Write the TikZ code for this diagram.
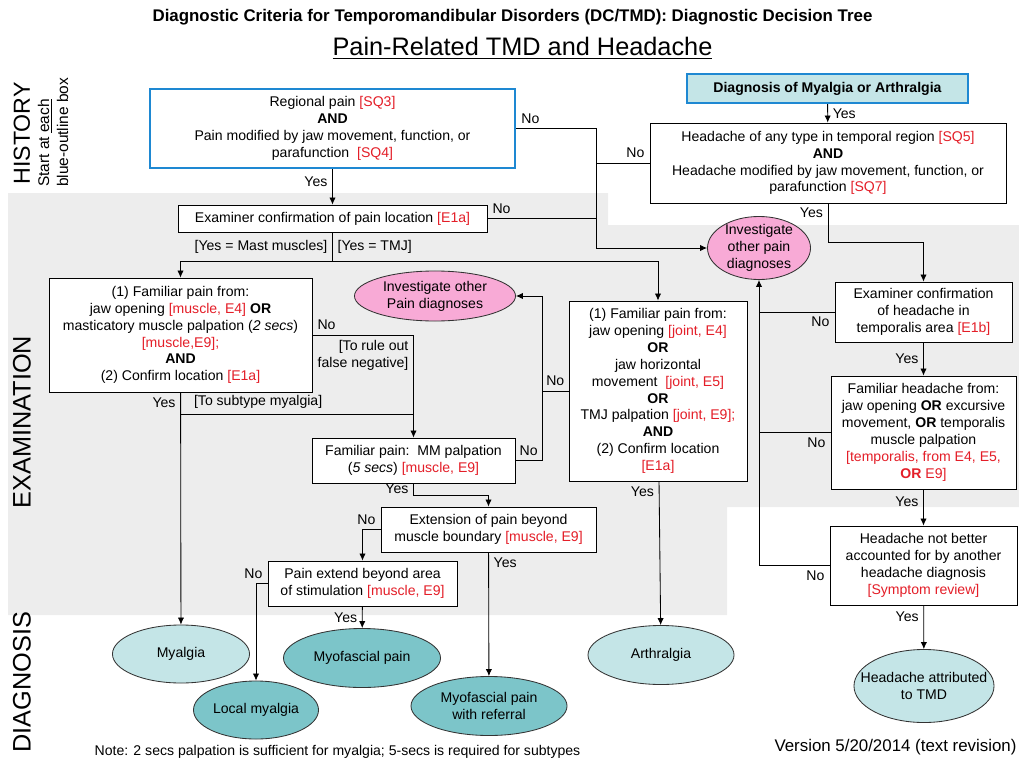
\documentclass[tikz,border=0pt]{standalone}
\usepackage{fontspec}
\setmainfont{Liberation Sans}
\usetikzlibrary{shapes.geometric,arrows.meta}

\definecolor{boxblue}{RGB}{30,136,210}
\definecolor{refred}{RGB}{228,30,40}
\definecolor{pinkfill}{RGB}{248,170,214}
\definecolor{lightteal}{RGB}{196,229,231}
\definecolor{darkteal}{RGB}{124,197,201}
\definecolor{bggray}{RGB}{237,237,237}
\newcommand{\rf}[1]{\textcolor{refred}{#1}}

\begin{document}
\begin{tikzpicture}[x=0.025cm, y=-0.025cm, line width=0.6pt,
    >={Latex[length=5pt,width=4.5pt]},
    box/.style={draw, fill=white, align=center, inner sep=0pt},
    bluebox/.style={draw=boxblue, line width=1.7pt, fill=white, align=center, inner sep=0pt},
    pinkell/.style={ellipse, draw=black!80, fill=pinkfill, align=center, inner sep=0pt},
    lightell/.style={ellipse, draw=black!80, fill=lightteal, align=center, inner sep=0pt},
    darkell/.style={ellipse, draw=black!80, fill=darkteal, align=center, inner sep=0pt},
    side/.style={rotate=90, font=\fontsize{18}{22}\selectfont}]

    \useasboundingbox (0,0) rectangle (1019,762);

    % Background
    \fill[bggray] (8,193) -- (608,193) -- (608,225) -- (1019,225) -- (1019,507)
                  -- (727,507) -- (727,615) -- (8,615) -- cycle;

    % Titles
    \node (title) [font=\fontsize{12}{14}\selectfont\bfseries] at (512.5,17)
          {Diagnostic Criteria for Temporomandibular Disorders (DC/TMD): Diagnostic Decision Tree};
    \node (subtitle) [font=\fontsize{18}{22}\selectfont] at (522.5,48)
          {\underline{Pain-Related TMD and Headache}};
    \node (hist) [side, font=\fontsize{16.5}{20}\selectfont] at (22,133.5) {HISTORY};
    \node (start) [rotate=90, anchor=west, align=left, font=\fontsize{11}{13.5}\selectfont] at (53,192)
          {Start at \underline{each}\\blue-outline box};
    \node (exam) [side] at (22,422) {EXAMINATION};
    \node (diag) [side] at (22,682) {DIAGNOSIS};

    % Nodes
    \node (reg) [bluebox, minimum width=9.125cm, minimum height=1.975cm] at (332.5,128.5)
          {Regional pain \rf{[SQ3]}\\\textbf{AND}\\Pain modified by jaw movement, function, or\\parafunction~~\rf{[SQ4]}};
    \node (dma) [bluebox, fill=lightteal, minimum width=7.025cm, minimum height=0.725cm] at (827.5,88.5)
          {\textbf{Diagnosis of Myalgia or Arthralgia}};
    \node (had) [box, minimum width=8.9cm, minimum height=2cm] at (828,163)
          {Headache of any type in temporal region \rf{[SQ5]}\\\textbf{AND}\\Headache modified by jaw movement, function, or\\parafunction \rf{[SQ7]}};
    \node (eloc) [box, minimum width=7.725cm, minimum height=0.675cm] at (332.5,218.5)
          {Examiner confirmation of pain location \rf{[E1a]}};
    \node (inv1) [pinkell, minimum width=2.575cm, minimum height=1.575cm, inner ysep=-2pt] at (759,248)
          {Investigate\\other pain\\diagnoses};
    \node (inv2) [pinkell, minimum width=4.025cm, minimum height=1.25cm] at (435,296)
          {Investigate other\\Pain diagnoses};
    \node (mus) [box, minimum width=6.575cm, minimum height=2.85cm] at (180.5,335)
          {(1) Familiar pain from:\\jaw opening \rf{[muscle, E4]} \textbf{OR}\\masticatory muscle palpation (\textit{2 secs})\\\rf{[muscle,E9];}\\\textbf{AND}\\(2) Confirm location \rf{[E1a]}};
    \node (jnt) [box, minimum width=4.45cm, minimum height=4.5cm] at (658,391)
          {(1) Familiar pain from:\\jaw opening \rf{[joint, E4]}\\\textbf{OR}\\jaw horizontal\\movement~~\rf{[joint, E5]}\\\textbf{OR}\\TMJ palpation \rf{[joint, E9];}\\\textbf{AND}\\(2) Confirm location\\\rf{[E1a]}};
    \node (hloc) [box, minimum width=4.425cm, minimum height=1.5cm] at (923.5,312)
          {Examiner confirmation\\of headache in\\temporalis area \rf{[E1b]}};
    \node (fam) [box, minimum width=4.625cm, minimum height=2.825cm] at (923.5,432.5)
          {Familiar headache from:\\jaw opening \textbf{OR} excursive\\movement, \textbf{OR} temporalis\\muscle palpation\\\rf{[temporalis, from E4, E5,}\\\rf{\textbf{OR} E9]}};
    \node (hnb) [box, minimum width=4.675cm, minimum height=1.975cm] at (923.5,565.5)
          {Headache not better\\accounted for by another\\headache diagnosis\\\rf{[Symptom review]}};
    \node (mm) [box, minimum width=5.075cm, minimum height=1.125cm] at (413.5,460.5)
          {Familiar pain:~~MM palpation\\(\textit{5 secs}) \rf{[muscle, E9]}};
    \node (ext) [box, minimum width=5.375cm, minimum height=1.125cm] at (488.5,529.5)
          {Extension of pain beyond\\muscle boundary \rf{[muscle, E9]}};
    \node (area) [box, minimum width=4.725cm, minimum height=1.125cm] at (362.5,583.5)
          {Pain extend beyond area\\of stimulation \rf{[muscle, E9]}};

    % Diagnoses
    \node (mya) [lightell, minimum width=3.425cm, minimum height=1.45cm] at (181,654) {Myalgia};
    \node (lmy) [darkell, minimum width=3.125cm, minimum height=1.45cm] at (256,710) {Local myalgia};
    \node (myo) [darkell, minimum width=3.925cm, minimum height=1.475cm] at (362,658) {Myofascial pain};
    \node (myr) [darkell, minimum width=3.9cm, minimum height=1.475cm] at (489,706) {Myofascial pain\\with referral};
    \node (art) [lightell, minimum width=3.65cm, minimum height=1.475cm] at (661,655) {Arthralgia};
    \node (hat) [lightell, minimum width=3.5cm, minimum height=1.825cm, inner xsep=-10pt] at (924,686)
          {Headache attributed\\to TMD};

    % Footer
    \node (note) at (337.5,752) {Note: 2 secs palpation is sufficient for myalgia; 5-secs is required for subtypes};
    \node (ver) [font=\fontsize{12}{14}\selectfont] at (895.5,747) {Version 5/20/2014 (text revision)};

    % Arrows
    \coordinate (jn1) at (596,248);
    \coordinate (split) at (332.5,261);
    \coordinate (sub) at (180.5,414);
    \coordinate (mmno) at (542,460.5);
    \coordinate (bend1) at (413.5,495);
    \coordinate (bend2) at (828,242);

    \draw[->] (reg) -- (eloc) node[pos=0.35,left] {Yes};
    \draw[->] (reg.east) -| (jn1) node[pos=0,above right] {No} -- (inv1.west);
    \draw (had.west) -- (had.west -| jn1) node[pos=0,above left] {No};
    \draw (eloc.east) -- (eloc.east -| jn1) node[pos=0,above right] {No};

    \draw (eloc) -- (split)
          node[midway,left] {[Yes = Mast muscles]}
          node[midway,right] {[Yes = TMJ]};
    \draw[->] (split) -| (mus);
    \draw[->] (split) -| (jnt);

    \draw[->] (mus.east) -| (mm)
          node[pos=0,above right] {No}
          node[pos=0.5,below left,align=right] {[To rule out\\false negative]};
    \draw[->] (mus) -- (mya) node[pos=0,below left] {Yes};
    \draw (sub) -- (sub -| mm) node[pos=0,above right,xshift=6pt] {[To subtype myalgia]};

    \draw[->] (mm.east) -- node[above] {No} (mmno) |- (inv2.east);
    \draw (jnt.west) -- (jnt.west -| mmno) node[midway,above] {No};

    \draw[->] (mm) -- (bend1) node[midway,left] {Yes} -| (ext);
    \draw[->] (ext.west) -| (area) node[pos=0,above left] {No};
    \draw[->] (ext) -- (myr) node[pos=0,below right] {Yes};
    \draw[->] (area.west) -| (lmy) node[pos=0,above left] {No};
    \draw[->] (area) -- (myo) node[midway,left] {Yes};
    \draw[->] (jnt) -- (art) node[pos=0,below left] {Yes};

    \draw[->] (dma) -- (had) node[midway,right] {Yes};
    \draw[->] (had) -- (bend2) node[pos=0.25,left] {Yes} -| (hloc);
    \draw[->] (hloc) -- (fam) node[midway,left] {Yes};
    \draw[->] (fam) -- (hnb) node[pos=0.35,left] {Yes};
    \draw[->] (hnb) -- (hat) node[pos=0.25,left] {Yes};

    \draw[->] (hnb.west) -| (inv1) node[pos=0,below left] {No};
    \draw (fam.west) -- (fam.west -| inv1) node[pos=0,below left] {No};
    \draw (hloc.west) -- (hloc.west -| inv1) node[pos=0,below left] {No};

\end{tikzpicture}
\end{document}
